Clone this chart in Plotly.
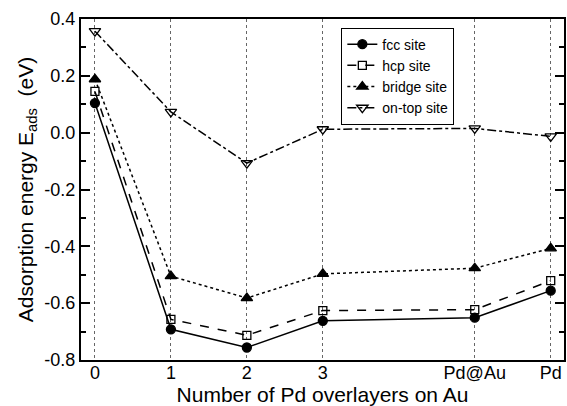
import plotly.graph_objects as go

x_vals = [0, 1, 2, 3, 5, 6]
x_labels = ["0", "1", "2", "3", "Pd@Au", "Pd"]

fcc = [0.104, -0.692, -0.756, -0.662, -0.651, -0.556]
hcp = [0.145, -0.657, -0.713, -0.626, -0.623, -0.521]
bridge = [0.188, -0.505, -0.582, -0.497, -0.477, -0.407]
ontop = [0.357, 0.073, -0.107, 0.012, 0.015, -0.013]

y_tickvals = [0.4, 0.2, 0.0, -0.2, -0.4, -0.6, -0.8]
y_ticktext = ["0.4", "0.2", "0.0", "-0.2", "-0.4", "-0.6", "-0.8"]

FONT = "Liberation Sans, Arial, Helvetica, sans-serif"

fig = go.Figure()
series = [
    ("fcc site", fcc, "solid", "circle", 9),
    ("hcp site", hcp, "dash", "square-open", 8),
    ("bridge site", bridge, "dot", "triangle-up", 10),
    ("on-top site", ontop, "dashdot", "triangle-down-open", 10),
]
for name, ys, dash, sym, size in series:
    fig.add_trace(go.Scatter(
        x=x_vals, y=ys, name=name, mode="lines+markers",
        line=dict(color="black", width=1.5, dash=dash),
        marker=dict(symbol=sym, size=size, color="black",
                    line=dict(color="black", width=1.3)),
    ))

fig.update_layout(
    width=567, height=406,
    margin=dict(l=81, r=1, t=19, b=46),
    plot_bgcolor="white", paper_bgcolor="white",
    font=dict(family=FONT, color="black", size=18),
    showlegend=True,
    legend=dict(
        x=0.539, y=0.975, xanchor="left", yanchor="top",
        bordercolor="black", borderwidth=1, bgcolor="white",
        font=dict(size=14, family=FONT), tracegroupgap=0,
        itemwidth=30,
    ),
)
fig.update_xaxes(
    range=[-0.1835, 6.175],
    tickvals=x_vals, ticktext=x_labels,
    showgrid=True, gridcolor="#666", griddash="dot", gridwidth=1,
    zeroline=False,
    showline=True, linecolor="black", linewidth=2, mirror=True,
    ticks="", tickfont=dict(size=18), ticklabelstandoff=-5,
    title=dict(text="Number of Pd overlayers on Au", font=dict(size=21), standoff=2),
)
fig.update_yaxes(
    range=[-0.8, 0.4],
    tickvals=y_tickvals, ticktext=y_ticktext,
    showgrid=False, zeroline=False,
    showline=True, linecolor="black", linewidth=2, mirror="ticks",
    ticks="inside", ticklen=9, tickwidth=1.5, tickcolor="black",
    tickfont=dict(size=18),
    minor=dict(dtick=0.1, tick0=0, ticks="inside", ticklen=5, tickwidth=1.5, tickcolor="black", showgrid=False),
    title=dict(text="Adsorption energy E<sub>ads</sub>  (eV)", font=dict(size=21), standoff=5),
)

fig.write_html("out.html")
